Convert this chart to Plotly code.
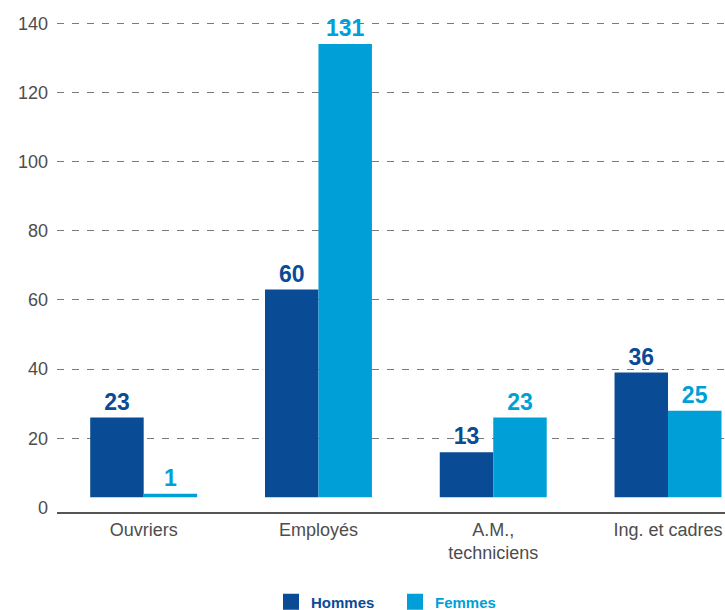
import plotly.graph_objects as go

categories = ["Ouvriers", "Employés", "A.M.,<br>techniciens", "Ing. et cadres"]
hommes = [23, 60, 13, 36]
femmes = [1, 131, 23, 25]
y_ticks = [0, 20, 40, 60, 80, 100, 120, 140]
grid_ticks = [20, 40, 60, 80, 100, 120, 140]
series_names = ["Hommes", "Femmes"]

C_H = "#0a4b96"
C_F = "#019fd7"
BAR_BASE = 3
Y_RANGE = [-1.3, 143.85]
X_RANGE = [-0.496, 3.326]
BOLD_FONT = "Liberation Sans, Arial, Helvetica"
REG_FONT = "Liberation Sans, Arial, Helvetica"

fig = go.Figure()
for vals, col, nm in [(hommes, C_H, series_names[0]), (femmes, C_F, series_names[1])]:
    fig.add_trace(go.Bar(
        x=categories, y=vals, base=BAR_BASE, name=nm, showlegend=False,
        marker=dict(color=col, line=dict(width=0)),
        text=[str(v) for v in vals], textposition="outside",
        textfont=dict(color=col, size=23, family=BOLD_FONT, weight="bold"),
        cliponaxis=False,
    ))
# legend entries with larger square swatches
for col, nm in [(C_H, series_names[0]), (C_F, series_names[1])]:
    fig.add_trace(go.Scatter(
        x=[None], y=[None], mode="markers",
        name=f"<b><span style='color:{col}'>{nm}</span></b>",
        marker=dict(symbol="square", size=16, color=col),
        hoverinfo="skip",
    ))
# invisible trace to hold the grid axis
fig.add_trace(go.Scatter(x=[categories[0]], y=[0], yaxis="y2", mode="markers",
                         marker=dict(opacity=0), showlegend=False, hoverinfo="skip"))

fig.update_layout(
    width=725, height=610,
    margin=dict(l=57, r=0, t=10, b=98),
    paper_bgcolor="white", plot_bgcolor="white",
    barmode="group", bargap=0.388, bargroupgap=0,
    font=dict(family=REG_FONT, size=18, color="#4d4d4d"),
    xaxis=dict(range=X_RANGE, showline=True, linecolor="#555555", linewidth=2,
               ticks="", showgrid=False, automargin=False,
               tickfont=dict(size=18, color="#4d4d4d")),
    yaxis=dict(range=Y_RANGE, tickvals=y_ticks, showgrid=False, zeroline=False,
               showline=False, ticks="", ticklabelstandoff=8, automargin=False,
               tickfont=dict(size=18, color="#4d4d4d")),
    yaxis2=dict(range=Y_RANGE, overlaying="y", tickvals=grid_ticks, showticklabels=False,
                showgrid=True, gridcolor="#7a7a7a", gridwidth=1, griddash="7px,8px",
                zeroline=False, showline=False, ticks="", layer="below traces",
                automargin=False),
    legend=dict(orientation="h", xref="container", yref="container",
                x=0.3738, xanchor="left", y=0.0131, yanchor="middle",
                font=dict(family=BOLD_FONT, size=15), itemclick=False,
                entrywidth=79, entrywidthmode="pixels", itemsizing="trace",
                bgcolor="rgba(0,0,0,0)"),
    showlegend=True,
)

fig.write_html(
    "out.html",
    config={"displayModeBar": False},
    post_script="document.body.style.margin='0';document.body.style.overflow='hidden';",
)
